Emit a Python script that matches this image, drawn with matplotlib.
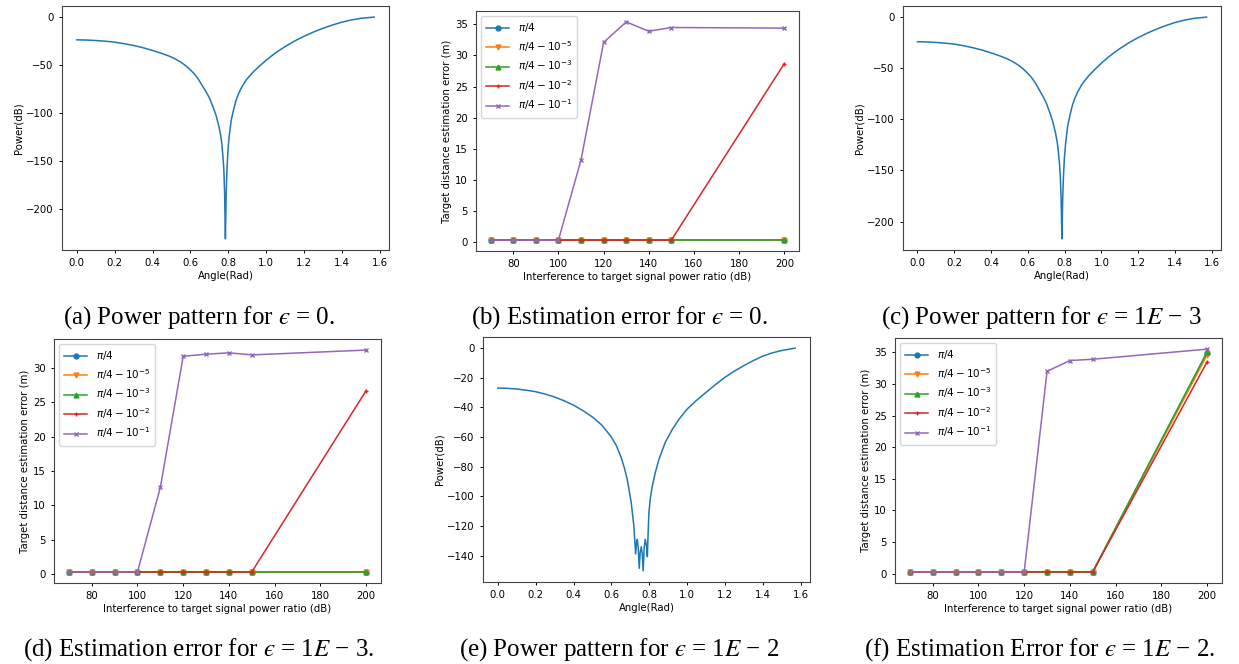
import matplotlib as mpl
mpl.use("Agg")
import matplotlib.pyplot as plt

mpl.rcParams['font.size'] = 7.3
mpl.rcParams['mathtext.fontset'] = 'dejavusans'
mpl.rcParams['axes.edgecolor'] = '#444444'
mpl.rcParams['axes.linewidth'] = 0.8
mpl.rcParams['xtick.major.size'] = 2.5
mpl.rcParams['ytick.major.size'] = 2.5
mpl.rcParams['xtick.major.width'] = 0.7
mpl.rcParams['ytick.major.width'] = 0.7

W, H = 1239, 664

# ---- power pattern data ----
angle_a = [0.0, 0.05, 0.1, 0.15, 0.2, 0.25, 0.3, 0.35, 0.4, 0.45, 0.49, 0.52, 0.55, 0.575,
           0.6, 0.62, 0.64, 0.666, 0.685, 0.7, 0.719, 0.735, 0.751, 0.76, 0.766, 0.772,
           0.777, 0.781, 0.785, 0.789, 0.793, 0.798, 0.805, 0.816, 0.83, 0.842, 0.855, 0.87,
           0.895, 0.93, 0.964, 1.0, 1.035, 1.071, 1.1, 1.15, 1.2, 1.25, 1.3, 1.35, 1.4,
           1.45, 1.5, 1.571]
power_a = [-23.7, -23.9, -24.4, -25.1, -26.1, -27.7, -29.6, -31.9, -34.8, -37.9, -40.8,
           -43.6, -47.0, -50.6, -55.0, -59.0, -64.0, -72.4, -78.5, -84.0, -93.3, -102.0,
           -114.2, -123.0, -132.0, -145.0, -160.0, -185.0, -231.0, -185.0, -160.0, -140.0,
           -124.0, -107.0, -95.0, -86.3, -79.5, -73.5, -65.4, -57.5, -51.2, -45.0, -39.5,
           -34.5, -30.8, -25.0, -20.0, -15.6, -11.7, -8.3, -5.3, -3.0, -1.3, 0.0]

angle_c = [0.0, 0.05, 0.1, 0.15, 0.2, 0.25, 0.3, 0.35, 0.4, 0.45, 0.49, 0.52, 0.55, 0.575,
           0.6, 0.62, 0.64, 0.666, 0.685, 0.7, 0.719, 0.735, 0.751, 0.76, 0.766, 0.772,
           0.777, 0.781, 0.785, 0.789, 0.793, 0.798, 0.805, 0.816, 0.83, 0.842, 0.855, 0.87,
           0.895, 0.93, 0.964, 1.0, 1.035, 1.071, 1.1, 1.15, 1.2, 1.25, 1.3, 1.35, 1.4,
           1.45, 1.5, 1.571]
power_c = [-24.1, -24.3, -24.8, -25.5, -26.4, -28.0, -29.9, -32.2, -35.0, -38.1, -41.0,
           -43.8, -47.2, -50.8, -55.2, -59.2, -64.2, -72.5, -78.6, -84.0, -93.3, -102.0,
           -114.0, -123.0, -132.0, -144.0, -158.0, -180.0, -217.0, -180.0, -158.0, -139.0,
           -124.0, -107.0, -95.0, -86.3, -79.5, -73.5, -65.4, -57.5, -51.2, -45.0, -39.5,
           -34.5, -30.8, -25.0, -20.0, -15.6, -11.7, -8.3, -5.3, -3.0, -1.3, 0.0]

angle_e = [0.0, 0.05, 0.1, 0.15, 0.2, 0.25, 0.3, 0.35, 0.4, 0.45, 0.5, 0.55, 0.596, 0.625,
           0.649, 0.668, 0.684, 0.705, 0.719, 0.728, 0.733, 0.737, 0.742, 0.747, 0.752,
           0.758, 0.763, 0.768, 0.773, 0.779, 0.785, 0.790, 0.794, 0.798, 0.806, 0.816,
           0.833, 0.851, 0.885, 0.922, 0.96, 1.0, 1.05, 1.1, 1.15, 1.2, 1.25, 1.3, 1.35,
           1.4, 1.45, 1.5, 1.571]
power_e = [-26.9, -27.1, -27.6, -28.4, -29.4, -31.0, -33.0, -35.5, -38.5, -42.2, -46.5,
           -52.0, -59.3, -65.5, -72.9, -80.5, -88.7, -104.5, -120.4, -138.9, -131.0,
           -129.0, -135.0, -148.6, -138.0, -134.0, -139.0, -150.3, -135.0, -129.0, -133.0,
           -140.7, -125.0, -111.3, -101.0, -93.2, -83.5, -75.1, -63.5, -54.8, -47.5, -41.2,
           -35.2, -29.9, -24.6, -19.7, -15.5, -11.8, -8.4, -5.4, -3.2, -1.6, 0.0]

# ---- estimation error data ----
ratio_db = [70, 80, 90, 100, 110, 120, 130, 140, 150, 200]
labels = [r'$\pi/4$', r'$\pi/4-10^{-5}$', r'$\pi/4-10^{-3}$', r'$\pi/4-10^{-2}$', r'$\pi/4-10^{-1}$']
markers = ['o', 'v', '^', '+', 'x']

err_b = [
    [0.3, 0.3, 0.3, 0.3, 0.3, 0.3, 0.3, 0.3, 0.3, 0.3],
    [0.3, 0.3, 0.3, 0.3, 0.3, 0.3, 0.3, 0.3, 0.3, 0.3],
    [0.3, 0.3, 0.3, 0.3, 0.3, 0.3, 0.3, 0.3, 0.3, 0.3],
    [0.3, 0.3, 0.3, 0.3, 0.3, 0.3, 0.3, 0.3, 0.3, 28.7],
    [0.3, 0.3, 0.3, 0.3, 13.2, 32.1, 35.4, 33.9, 34.5, 34.4],
]
err_d = [
    [0.3, 0.3, 0.3, 0.3, 0.3, 0.3, 0.3, 0.3, 0.3, 0.3],
    [0.3, 0.3, 0.3, 0.3, 0.3, 0.3, 0.3, 0.3, 0.3, 0.3],
    [0.3, 0.3, 0.3, 0.3, 0.3, 0.3, 0.3, 0.3, 0.3, 0.3],
    [0.3, 0.3, 0.3, 0.3, 0.3, 0.3, 0.3, 0.3, 0.3, 26.7],
    [0.3, 0.3, 0.3, 0.3, 12.6, 31.7, 32.0, 32.2, 31.9, 32.6],
]
err_f = [
    [0.3, 0.3, 0.3, 0.3, 0.3, 0.3, 0.3, 0.3, 0.3, 34.9],
    [0.3, 0.3, 0.3, 0.3, 0.3, 0.3, 0.3, 0.3, 0.3, 34.6],
    [0.3, 0.3, 0.3, 0.3, 0.3, 0.3, 0.3, 0.3, 0.3, 35.1],
    [0.3, 0.3, 0.3, 0.3, 0.3, 0.3, 0.3, 0.3, 0.3, 33.5],
    [0.3, 0.3, 0.3, 0.3, 0.3, 0.3, 32.0, 33.7, 33.9, 35.5],
]

captions = [
    ('(a) Power pattern for $\u03f5$ = 0.', 199, 318),
    ('(b) Estimation error for $\u03f5$ = 0.', 620, 318),
    ('(c) Power pattern for $\u03f5$ = 1$E$ \u2212 3', 1041, 318),
    ('(d) Estimation error for $\u03f5$ = 1$E$ \u2212 3.', 199, 650),
    ('(e) Power pattern for $\u03f5$ = 1$E$ \u2212 2', 619, 650),
    ('(f) Estimation Error for $\u03f5$ = 1$E$ \u2212 2.', 1040, 650),
]

fig = plt.figure(figsize=(W / 100, H / 100), dpi=100)


def px_axes(l, t, r, b):
    return fig.add_axes([l / W, (H - b) / H, (r - l) / W, (b - t) / H])


def power_plot(ax, x, y):
    ax.plot(x, y, color='#1f77b4', lw=1.1)
    ax.set_xlabel('Angle(Rad)', labelpad=2)
    ax.set_ylabel('Power(dB)', labelpad=2)


def error_plot(ax, series):
    for vals, lab, m in zip(series, labels, markers):
        ax.plot(ratio_db, vals, marker=m, markersize=3.5, lw=1.1, label=lab)
    ax.set_xlabel('Interference to target signal power ratio (dB)', labelpad=2)
    ax.set_ylabel('Target distance estimation error (m)', labelpad=2)
    ax.legend(loc='upper left', fontsize=7.5, handlelength=2.2, borderpad=0.5,
              labelspacing=0.45)


ax_a = px_axes(62, 6, 389, 250)
power_plot(ax_a, angle_a, power_a)

ax_b = px_axes(476, 11, 799, 251)
error_plot(ax_b, err_b)

ax_c = px_axes(903, 6, 1221, 250)
power_plot(ax_c, angle_c, power_c)

ax_d = px_axes(54, 339, 381, 583)
error_plot(ax_d, err_d)

ax_e = px_axes(483, 337, 810, 582)
power_plot(ax_e, angle_e, power_e)

ax_f = px_axes(895, 338, 1222, 583)
error_plot(ax_f, err_f)

for text, cx, cy in captions:
    fig.text(cx / W, 1 - cy / H, text, ha='center', va='center', fontsize=18,
             family='Liberation Serif', math_fontfamily='stix')

fig.savefig('out.png', dpi=100)
